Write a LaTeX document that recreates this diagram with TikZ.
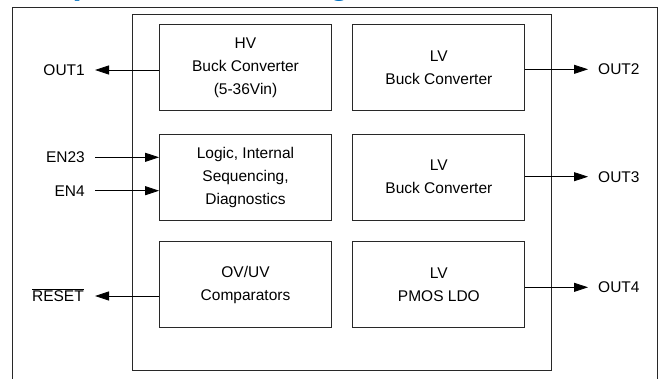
\documentclass[tikz,border=0pt]{standalone}
\usepackage{fontspec}
\setmainfont{Liberation Sans}
\usetikzlibrary{arrows.meta}
\definecolor{titleblue}{RGB}{0,112,192}
\definecolor{lineclr}{RGB}{40,40,40}
\begin{document}
\begin{tikzpicture}[x=1pt,y=-1pt,
  blk/.style={draw=lineclr, line width=0.9pt, inner sep=0pt, align=center,
    minimum width=172pt, minimum height=86pt, font=\fontsize{15.5}{23}\selectfont},
  lbl/.style={inner sep=0pt, font=\fontsize{15.5}{18}\selectfont},
  arr/.style={draw=black, line width=0.8pt, -{Triangle[length=14pt,width=9pt]}},
  frm/.style={draw=lineclr, line width=0.9pt}]
\useasboundingbox (0,0) rectangle (659,378);
\clip (0,0) rectangle (659,378);
% cut-off title
\node[anchor=base west, inner sep=0pt, text=titleblue, font=\fontsize{33}{36}\bfseries\selectfont] (title) at (12,-5.5) {Simplified Block Diagram};
% outer frame
\draw[frm] (12.7,400) -- (12.7,7.3) -- (657.5,7.3) -- (657.5,400);
% chip
\draw[frm] (132,14.7) rectangle (551.7,370.7);
% blocks
\node[blk] (hv) at (245.5,67.7) {HV\\Buck Converter\\(5-36Vin)};
\node[blk] (lv1) at (438.9,67.7) {LV\\Buck Converter};
\node[blk] (logic) at (245.5,177.2) {Logic, Internal\\Sequencing,\\Diagnostics};
\node[blk] (lv2) at (438.9,177.2) {LV\\Buck Converter};
\node[blk] (ovuv) at (245.5,284.7) {OV/UV\\Comparators};
\node[blk] (ldo) at (438.9,284.7) {LV\\PMOS LDO};
% left side
\coordinate (t1) at (95,70);
\node[lbl, anchor=base east] (out1) at (85,75.5) {OUT1};
\draw[arr] (hv.west |- t1) -- (t1);
\coordinate (s23) at (95,157.3);
\node[lbl, anchor=base east] (en23) at (85,162.8) {EN23};
\draw[arr] (s23) -- (s23 -| logic.west);
\coordinate (s4) at (95,190.7);
\node[lbl, anchor=base east] (en4) at (85,196.2) {EN4};
\draw[arr] (s4) -- (s4 -| logic.west);
\coordinate (tr) at (95,296);
\node[lbl, anchor=base east] (reset) at (84,301.5) {$\overline{\mbox{RESET}}$};
\draw[arr] (ovuv.west |- tr) -- (tr);
% right side
\coordinate (t2) at (588,69.3);
\node[lbl, anchor=base west] (out2) at (598,74.8) {OUT2};
\draw[arr] (lv1.east |- t2) -- (t2);
\coordinate (t3) at (588,176.7);
\node[lbl, anchor=base west] (out3) at (598,182.2) {OUT3};
\draw[arr] (lv2.east |- t3) -- (t3);
\coordinate (t4) at (588,287.3);
\node[lbl, anchor=base west] (out4) at (598,292.8) {OUT4};
\draw[arr] (ldo.east |- t4) -- (t4);
\end{tikzpicture}
\end{document}
